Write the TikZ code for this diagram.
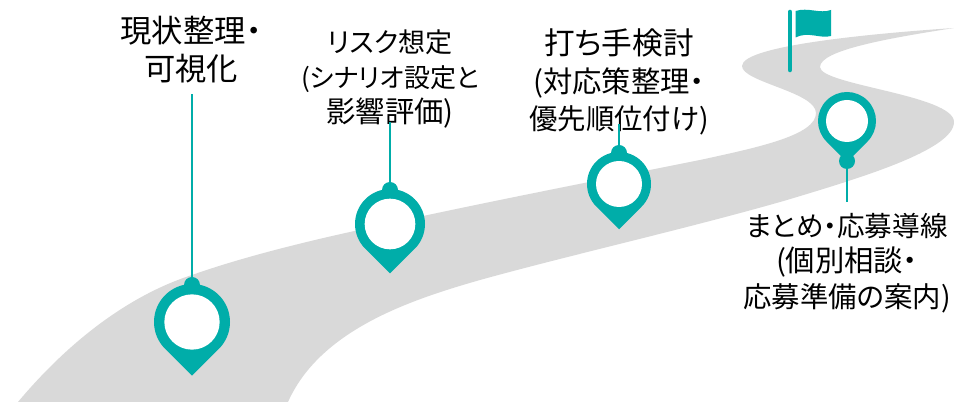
\documentclass[tikz,border=0pt]{standalone}
\usepackage{fontspec}
\setmainfont{Noto Sans CJK JP}[RawFeature={+palt}]
\definecolor{pinteal}{HTML}{00ADA9}
\definecolor{roadgray}{HTML}{D9D9D9}
\newcommand{\ls}[2]{{\fontsize{#1pt}{#1pt}\selectfont #2}}
\tikzset{
  lead/.style={draw=pinteal,line width=1.5pt},
  ball/.style={circle,fill=pinteal,inner sep=0pt,minimum size=12pt},
  hole/.style={circle,fill=white,inner sep=0pt},
  big/.style={font=\fontsize{23.5pt}{28.5pt}\selectfont,align=center,text=black,inner sep=0pt},
  mid/.style={font=\fontsize{20pt}{26.5pt}\selectfont,align=center,text=black,inner sep=0pt},
  tall/.style={font=\fontsize{20pt}{28pt}\selectfont,align=center,text=black,inner sep=0pt},
  small/.style={font=\fontsize{20pt}{26.6pt}\selectfont,align=center,text=black,inner sep=0pt}
}
\newcommand{\pinbody}[3]{% x y R
  \fill[pinteal] ({#1},{#2+#3*1.4142}) -- ({#1-#3*0.7071},{#2+#3*0.7071})
    arc[start angle=225,end angle=-45,radius=#3*0.75pt] -- cycle;
}
\begin{document}
\begin{tikzpicture}[x=0.75pt,y=-0.75pt]
\useasboundingbox (0,0) rectangle (954,402);
\fill[white] (0,0) rectangle (954,402);
\begin{scope}
\clip (0,0) rectangle (954,402);
\fill[roadgray] (18,402)
  .. controls (70,340) and (130,295) .. (192,275)
  .. controls (240,258) and (300,243) .. (350,232)
  .. controls (470,205) and (590,182) .. (700,160)
  .. controls (760,147) and (816,135) .. (816,113)
  .. controls (816,92) and (742,82) .. (742,66)
  .. controls (742,45) and (880,33) .. (954,28)
  .. controls (890,38) and (820,50) .. (820,67)
  .. controls (820,85) and (954,95) .. (954,122)
  .. controls (954,150) and (860,178) .. (787,200)
  .. controls (690,228) and (570,255) .. (480,280)
  .. controls (410,300) and (320,330) .. (288,402)
  -- cycle;
\end{scope}
% flag
\draw[pinteal,line width=3.4pt,line cap=round] (790,12) -- (790,70);
\fill[pinteal] (795.5,11)
  .. controls (808,7) and (820,14) .. (831,10)
  -- (831,36)
  .. controls (820,39) and (808,31) .. (795.5,37.5) -- cycle;
% pins
\pinbody{192}{322}{38}
\pinbody{390}{224}{35}
\pinbody{619}{184}{32}
\pinbody{847}{121}{29}
\node[hole,minimum size=41.5pt] (hole1) at (192,322) {};
\node[hole,minimum size=38pt] (hole2) at (390,224) {};
\node[hole,minimum size=34.5pt] (hole3) at (619,184) {};
\node[hole,minimum size=31.5pt] (hole4) at (847,121) {};
\node[ball] (ball1) at (192,285) {};
\node[ball] (ball2) at (390,190) {};
\node[ball] (ball3) at (619,153) {};
\node[ball] (ball4) at (847,161) {};
% labels
\node[big] (label1) at (191,49.5) {現状整理・\\可視化};
\node[mid] (label2) at (390,79) {\ls{20.3}{リスク想定}\\\ls{19.5}{(シナリオ設定と}\\\ls{22}{影響評価)}};
\node[tall] (label3) at (619,82) {\ls{23}{打ち手検討}\\\ls{22}{(対応策整理・}\\\ls{21.3}{優先順位付け)}};
\node[small] (label4) at (847,263) {\ls{20.7}{まとめ・応募導線}\\\ls{22}{(個別相談・}\\\ls{21.3}{応募準備の案内)}};
% connectors
\coordinate (end1) at (192,94);
\coordinate (end2) at (390,122);
\coordinate (end3) at (619,124);
\coordinate (end4) at (847,202);
\draw[lead] (ball1) -- (end1);
\draw[lead] (ball2) -- (end2);
\draw[lead] (ball3) -- (end3);
\draw[lead] (ball4) -- (end4);
\end{tikzpicture}
\end{document}
